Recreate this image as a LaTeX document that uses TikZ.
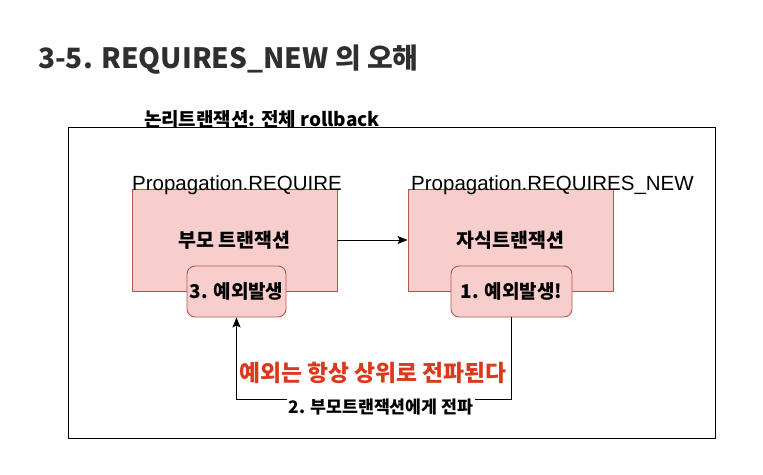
\documentclass[tikz,border=0pt]{standalone}
\usepackage{fontspec}
\setmainfont{Liberation Sans}
\newfontfamily\kr{Noto Sans CJK KR}
\usetikzlibrary{arrows.meta}
\definecolor{pinkfill}{HTML}{F8CECC}
\definecolor{pinkline}{HTML}{B85450}
\definecolor{redtext}{HTML}{D93A1E}
\definecolor{titlegray}{HTML}{2F2F2F}
\tikzset{
  txbox/.style={draw=pinkline, fill=pinkfill, line width=0.9pt, minimum width=205pt, minimum height=102pt, inner sep=0pt,
    font=\kr\bfseries\fontsize{19.5}{22}\selectfont},
  errbox/.style={draw=pinkline, fill=pinkfill, line width=0.9pt, rounded corners=8pt, minimum height=51pt, inner sep=0pt,
    font=\kr\bfseries\fontsize{19}{22}\selectfont},
  proplabel/.style={anchor=base west, inner sep=0pt, font=\fontsize{20.5}{23}\selectfont},
  conn/.style={line width=1pt, -{Stealth[length=10pt,width=8pt,inset=2pt]}},
}
\begin{document}
\begin{tikzpicture}[x=1pt,y=-1pt]
\useasboundingbox (0,0) rectangle (763,474);
\node[anchor=base west, inner sep=0pt, text=titlegray, font=\kr\bfseries\fontsize{28}{32}\selectfont] (title) at (38,68) {3-5. REQUIRES\_NEW 의 오해};
\node[draw, line width=1.3pt, minimum width=647pt, minimum height=311pt, anchor=north west, inner sep=0pt] (outer) at (68,127) {};
\node[anchor=base, inner sep=0pt, font=\kr\bfseries\fontsize{19}{22}\selectfont] (outerlbl) at (262,126) {논리트랜잭션: 전체 rollback};
\node[txbox] (parent) at (234.5,240) {부모 트랜잭션};
\node[txbox] (child) at (510.5,240) {자식트랜잭션};
\node[proplabel] (plab) at (132,190) {Propagation.REQUIRE};
\node[proplabel] (clab) at (411,190) {Propagation.REQUIRES\_NEW};
\node[errbox, minimum width=99pt] (e3) at (236.5,291.5) {3. 예외발생};
\node[errbox, minimum width=121pt] (e1) at (511.5,291.5) {1. 예외발생!};
\draw[conn] (parent.east) -- (child.west);
\coordinate (bot) at (0,399);
\draw[conn] (e1.south) -- (e1.south |- bot) -| (e3.south);
\node[fill=white, inner sep=1pt, font=\kr\bfseries\fontsize{17.3}{20}\selectfont] (lbl2) at (381,407) {2. 부모트랜잭션에게 전파};
\node[text=redtext, inner sep=0pt, font=\kr\bfseries\fontsize{22.8}{26}\selectfont] (red) at (373,373) {예외는 항상 상위로 전파된다};
\end{tikzpicture}
\end{document}
